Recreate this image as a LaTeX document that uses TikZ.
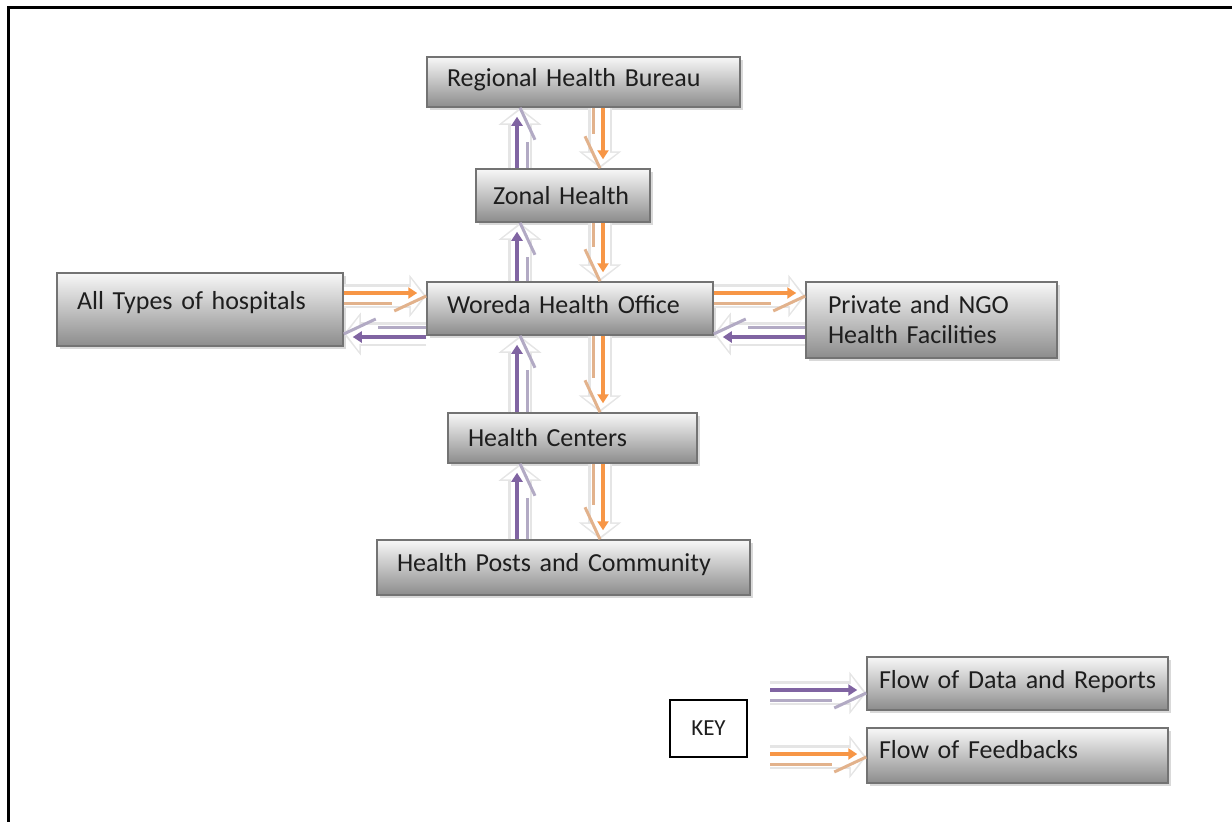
\documentclass[tikz,border=0pt]{standalone}
\usepackage{fontspec}
\setmainfont{Carlito}
\usetikzlibrary{arrows.meta, calc, shadows}
\definecolor{dat}{RGB}{128,100,162}
\definecolor{datl}{RGB}{178,170,196}
\definecolor{fbk}{RGB}{247,150,70}
\definecolor{fbkl}{RGB}{226,178,140}
\definecolor{ink}{RGB}{30,30,30}
\hyphenpenalty=10000
\tikzset{
  box/.style={rectangle, draw=black!55, line width=1.5pt, shading=axis,
              top color=black!3, bottom color=black!45, text=ink,
              align=left, inner xsep=20pt, inner ysep=0pt,
              drop shadow={shadow xshift=2.5pt, shadow yshift=-3pt, opacity=0.3}},
  keybox/.style={rectangle, draw=black, line width=1.5pt, fill=white, text=ink,
                 minimum width=77pt, minimum height=57pt, font=\fontsize{23}{27}\selectfont},
  % faint outline of the block arrow
  halo/.style={draw=gray!20, line width=24pt, -{Triangle[length=17pt, width=42pt]}},
  haloin/.style={draw=white, line width=19pt, -{Triangle[length=13pt, width=34pt]},
                 shorten >=2.5pt},
  frame/.style={line width=3pt, draw=black}
}
% #1 colour, #2 start, #3 end
\newcommand{\flw}[3]{%
  \coordinate (s) at #2; \coordinate (e) at #3;
  \draw[halo] ($(s)!3pt!-90:(e)$) -- ($(e)!3pt!90:(s)$);
  \draw[haloin] ($(s)!3pt!-90:(e)$) -- ($(e)!3pt!90:(s)$);
  \coordinate (e2) at ($(e)!34pt!(s)$);
  \coordinate (e3) at ($(e)!32pt!(s)$);
  \draw[draw=#1l, line width=3pt] ($(s)!10pt!-90:(e)$) -- ($(e2)!10pt!90:(s)$);
  \draw[draw=#1l, line width=3pt] ($(e3)!18pt!90:(s)$) -- ($(e)!3pt!90:(s)$);
  \draw[draw=#1, line width=4pt, -{Triangle[length=9pt, width=11pt]}] (s) -- ($(e)!9pt!(s)$);
}

\begin{document}
\begin{tikzpicture}[x=1pt, y=-1pt, font=\fontsize{26}{30}\selectfont]
  \useasboundingbox (0,0) rectangle (1232,822);
  \draw[frame] (8.5,822) -- (8.5,7.5) -- (1232,7.5);

  \node[box, text width=273pt, minimum height=50pt, text depth=9pt] (rhb)  at (583.5,82)   {Regional Health Bureau};
  \node[box, text width=140pt, inner xsep=17pt, minimum height=53pt] (zh) at (563,195.5) {Zonal Health};
  \node[box, text width=246pt, minimum height=53pt, text depth=9pt] (who)  at (570,308.5)  {Woreda Health Office};
  \node[box, text width=246pt, minimum height=73pt, text depth=18pt] (hosp) at (200,309.5)  {All Types of hospitals};
  \node[box, text width=207pt, inner xsep=22pt, minimum height=76pt] (pngo) at (931.5,320) {Private and NGO\\Health Facilities};
  \node[box, text width=209pt, minimum height=50pt] (hc)   at (572.5,438)  {Health Centers};
  \node[box, text width=333pt, minimum height=55pt, text depth=11pt] (hpc)  at (563.5,567.5){Health Posts and Community};

  \node[keybox] (key) at (708.5,728.5) {KEY};
  \node[box, text width=277pt, inner xsep=12pt, minimum height=53pt, text depth=9pt] (fdr) at (1017.5,683.5) {\mbox{Flow of Data and Reports}};
  \node[box, text width=277pt, inner xsep=12pt, minimum height=55pt, text depth=12pt] (ffb) at (1017.5,755.5) {Flow of Feedbacks};

  % lanes of the arrows
  \coordinate (up) at (517,0);
  \coordinate (dn) at (603,0);
  \coordinate (rt) at (0,293);
  \coordinate (lt) at (0,337);
  \coordinate (kd) at (770,690);
  \coordinate (kf) at (770,754);

  \flw{dat}{(zh.north -| up)}{(rhb.south -| up)}
  \flw{fbk}{(rhb.south -| dn)}{(zh.north -| dn)}
  \flw{dat}{(who.north -| up)}{(zh.south -| up)}
  \flw{fbk}{(zh.south -| dn)}{(who.north -| dn)}
  \flw{dat}{(hc.north -| up)}{(who.south -| up)}
  \flw{fbk}{(who.south -| dn)}{(hc.north -| dn)}
  \flw{dat}{(hpc.north -| up)}{(hc.south -| up)}
  \flw{fbk}{(hc.south -| dn)}{(hpc.north -| dn)}

  \flw{fbk}{(hosp.east |- rt)}{(who.west |- rt)}
  \flw{dat}{(who.west |- lt)}{(hosp.east |- lt)}
  \flw{fbk}{(who.east |- rt)}{(pngo.west |- rt)}
  \flw{dat}{(pngo.west |- lt)}{(who.east |- lt)}

  \flw{dat}{(kd)}{(kd -| fdr.west)}
  \flw{fbk}{(kf)}{(kf -| ffb.west)}
\end{tikzpicture}
\end{document}
